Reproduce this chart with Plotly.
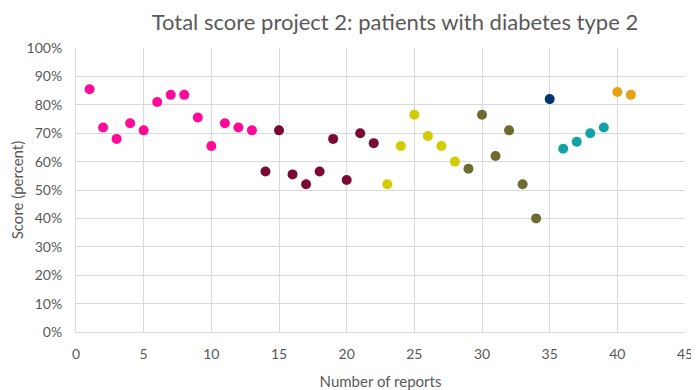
import plotly.graph_objects as go

reports = list(range(1, 42))
scores = [85.5, 72, 68, 73.5, 71, 81, 83.5, 83.5, 75.5, 65.5, 73.5, 72, 71,
          56.5, 71, 55.5, 52, 56.5, 68, 53.5, 70, 66.5,
          52, 65.5, 76.5, 69, 65.5, 60,
          57.5, 76.5, 62, 71, 52, 40,
          82,
          64.5, 67, 70, 72,
          84.5, 83.5]
group_sizes = [13, 9, 6, 6, 1, 4, 2]
group_colors = ["#FF0A99", "#7A0A33", "#D2CC00", "#6E6A30", "#04356E", "#0FA3A6", "#E8A10F"]

colors = []
for n, c in zip(group_sizes, group_colors):
    colors += [c] * n

fig = go.Figure()
fig.add_trace(go.Scatter(
    x=reports, y=[s / 100 for s in scores], mode="markers",
    marker=dict(color=colors, size=10), showlegend=False, cliponaxis=False))

font = "Lato, Open Sans, sans-serif"
# page body adds an 8px margin, so the figure is sized to fit inside the 699x390 window
fig.update_layout(
    width=691, height=382,
    margin=dict(l=68, r=14, t=40, b=58, autoexpand=False),
    paper_bgcolor="white", plot_bgcolor="white",
    font=dict(family=font, color="#595959"),
    title=dict(text="Total score project 2: patients with diabetes type 2",
               x=0.56, xanchor="center", y=0.962, yanchor="middle",
               font=dict(size=22, color="#595959")),
    xaxis=dict(range=[0, 45], dtick=5, tick0=0, showgrid=True, gridcolor="#D9D9D9",
               zeroline=False, showline=True, linecolor="#D9D9D9", mirror=False, automargin=False,
               ticks="", ticklabelstandoff=9, ticklabeloverflow="allow",
               tickfont=dict(size=14, color="#595959"),
               title=dict(text="Number of reports", font=dict(size=15, color="#595959"), standoff=18)),
    yaxis=dict(range=[0, 1], dtick=0.1, tickformat=".0%", showgrid=True, gridcolor="#D9D9D9",
               zeroline=False, showline=True, linecolor="#D9D9D9", automargin=False,
               ticks="", ticklabelstandoff=10, tickfont=dict(size=14, color="#595959"),
               title=dict(text="Score (percent)", font=dict(size=15, color="#595959"), standoff=15)),
)
fig.write_html("out.html")
